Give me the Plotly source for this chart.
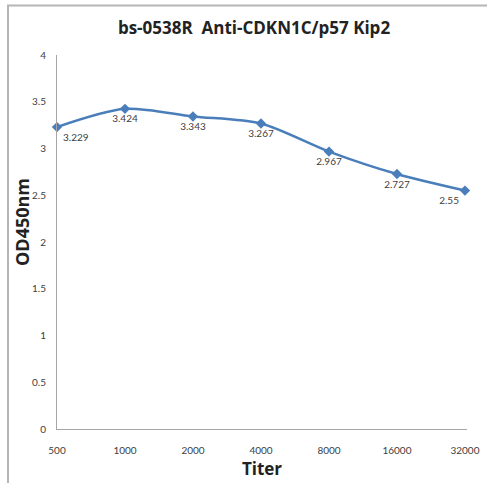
import plotly.graph_objects as go

titers = ["500", "1000", "2000", "4000", "8000", "16000", "32000"]
od450 = [3.229, 3.424, 3.343, 3.267, 2.967, 2.727, 2.55]
label_text = ["3.229", "3.424", "3.343", "3.267", "2.967", "2.727", "2.55"]
y_ticks = [0, 0.5, 1, 1.5, 2, 2.5, 3, 3.5, 4]

W, H = 487, 483
L, R, T, B = 57, 20, 55, 54
pw, ph = W - L - R, H - T - B

def px_x(x):
    return (x - L) / pw

def px_y(y):
    return (H - B - y) / ph

fig = go.Figure()
fig.add_trace(go.Scatter(
    x=list(range(len(titers))),
    y=od450,
    mode="lines+markers+text",
    line=dict(color="#4a7ebb", width=2.5, shape="spline", smoothing=0.8),
    marker=dict(symbol="diamond", size=8, color="#4a7ebb"),
    text=label_text,
    textposition=["bottom right", "bottom center", "bottom center", "bottom center",
                  "bottom center", "bottom center", "bottom left"],
    textfont=dict(family="Lato, Open Sans, sans-serif", size=10, color="#404040"),
    cliponaxis=False,
    hoverinfo="skip",
))

fig.update_layout(
    width=W, height=H,
    margin=dict(l=L, r=R, t=T, b=B),
    paper_bgcolor="white",
    plot_bgcolor="white",
    showlegend=False,
    title=dict(text="<b>bs-0538R  Anti-CDKN1C/p57 Kip2</b>", x=(120 + 388) / 2 / W, xanchor="center",
               y=1 - 28 / H, yanchor="middle",
               font=dict(family="Open Sans, sans-serif", size=17, color="#222222")),
    xaxis=dict(
        tickmode="array",
        tickvals=list(range(len(titers))),
        ticktext=titers,
        range=[0, 6.03],
        automargin=False,
        showgrid=False, zeroline=False,
        showline=True, linecolor="#a6a6a6", linewidth=1,
        ticks="", ticklen=0,
        ticklabelstandoff=12,
        tickfont=dict(family="Lato, Open Sans, sans-serif", size=10, color="#404040"),
        title=dict(text="<b>Titer</b>", standoff=8,
                   font=dict(family="Open Sans, sans-serif", size=17, color="#222222")),
    ),
    yaxis=dict(
        range=[0, 4],
        tickvals=y_ticks,
        ticktext=[f"{v:g}" for v in y_ticks],
        automargin=False,
        showgrid=False, zeroline=False,
        showline=True, linecolor="#a6a6a6", linewidth=1,
        ticks="", ticklen=0,
        ticklabelstandoff=8,
        tickfont=dict(family="Lato, Open Sans, sans-serif", size=10, color="#404040"),
    ),
    annotations=[dict(text="<b>OD450nm</b>", xref="paper", yref="paper",
                      x=px_x(22), y=px_y(222), xanchor="center", yanchor="middle",
                      textangle=-90, showarrow=False,
                      font=dict(family="Open Sans, sans-serif", size=18, color="#222222"))],
    shapes=[dict(type="rect", xref="paper", yref="paper",
                 x0=px_x(8), x1=px_x(700), y0=px_y(700), y1=px_y(5.5),
                 line=dict(color="#b5b5b5", width=2), fillcolor="rgba(0,0,0,0)", layer="below")],
)

fig.write_html("out.html", config={"displayModeBar": False},
               post_script="document.body.style.margin='0';")
